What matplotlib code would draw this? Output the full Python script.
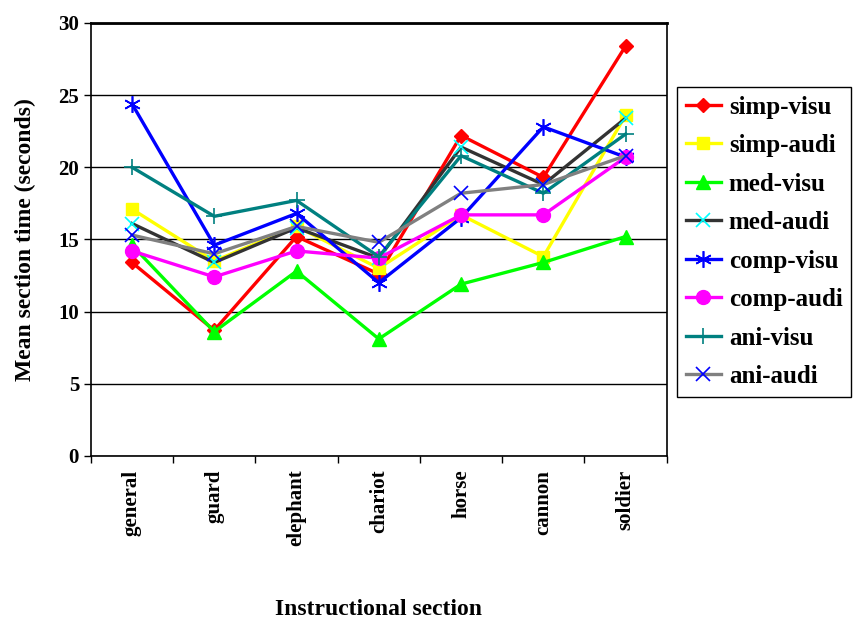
import matplotlib
matplotlib.use("Agg")
import matplotlib.pyplot as plt
import numpy as np

sections = ["general", "guard", "elephant", "chariot", "horse", "cannon", "soldier"]

simp_visu = [13.4, 8.7, 15.2, 12.6, 22.2, 19.3, 28.4]
simp_audi = [17.1, 13.5, 15.9, 13.0, 16.7, 13.8, 23.6]
med_visu = [14.6, 8.6, 12.8, 8.1, 11.9, 13.4, 15.2]
med_audi = [16.1, 13.4, 15.8, 13.7, 21.4, 18.8, 23.4]
comp_visu = [24.4, 14.6, 16.8, 12.0, 16.5, 22.8, 20.7]
comp_audi = [14.2, 12.4, 14.2, 13.7, 16.7, 16.7, 20.7]
ani_visu = [20.0, 16.6, 17.7, 13.8, 20.8, 18.2, 22.3]
ani_audi = [15.3, 14.0, 15.9, 14.8, 18.2, 18.8, 20.8]

series = [
    ("simp-visu", simp_visu, dict(color="#ff0000", marker="D", mfc="#ff0000", mec="#ff0000", ms=7)),
    ("simp-audi", simp_audi, dict(color="#ffff00", marker="s", mfc="#ffff00", mec="#ffff00", ms=8)),
    ("med-visu", med_visu, dict(color="#00ff00", marker="^", mfc="#00ff00", mec="#00ff00", ms=10)),
    ("med-audi", med_audi, dict(color="#333333", marker="x", mfc="none", mec="#00ffff", ms=10, mew=1.2)),
    ("comp-visu", comp_visu, dict(color="#0000ff", marker=(6, 2, 0), mfc="none", mec="#0000ff", ms=12, mew=1.2)),
    ("comp-audi", comp_audi, dict(color="#ff00ff", marker="o", mfc="#ff00ff", mec="#ff00ff", ms=10)),
    ("ani-visu", ani_visu, dict(color="#008080", marker="+", mfc="none", mec="#008080", ms=12, mew=1.2)),
    ("ani-audi", ani_audi, dict(color="#808080", marker="x", mfc="none", mec="#0000ff", ms=10, mew=1.2)),
]

plt.rcParams["font.family"] = ["Liberation Serif", "DejaVu Serif"]
plt.rcParams["font.weight"] = "bold"

fig = plt.figure(figsize=(8.57, 6.21), dpi=100)
ax = fig.add_axes([0.106, 0.266, 0.672, 0.697])

x = np.arange(len(sections)) + 0.5
for name, vals, st in series:
    ax.plot(x, vals, label=name, lw=2.4, zorder=3, **st)

ax.set_xlim(0, len(sections))
ax.set_ylim(0, 30)
ax.set_yticks(np.arange(0, 31, 5))
ax.yaxis.grid(True, color="black", lw=1.0, zorder=0)
ax.set_axisbelow(True)

ax.set_xticks(x)
ax.set_xticklabels(sections, rotation=90, fontsize=15, fontweight="bold")
ax.set_xticks(np.arange(0, len(sections) + 1), minor=True)
ax.tick_params(axis="x", which="major", length=0, pad=10)
ax.tick_params(axis="x", which="minor", length=5, width=1, direction="out")
ax.tick_params(axis="y", labelsize=15, length=5, width=1, direction="out")
for lbl in ax.get_yticklabels():
    lbl.set_fontweight("bold")

for s in ax.spines.values():
    s.set_linewidth(1.2)
    s.set_color("black")
ax.spines["top"].set_linewidth(2)

ax.set_ylabel("Mean section time (seconds)", fontsize=17, fontweight="bold", labelpad=16)
ax.set_xlabel("Instructional section", fontsize=17, fontweight="bold", labelpad=38)

leg = fig.legend(loc="upper left", bbox_to_anchor=(0.790, 0.860), borderaxespad=0,
                 frameon=True, fancybox=False, edgecolor="black", framealpha=1,
                 handlelength=1.4, handletextpad=0.32, labelspacing=0.62, borderpad=0.35,
                 prop={"weight": "bold", "size": 18})
leg.get_frame().set_linewidth(1.0)

fig.savefig("out.png", dpi=100)
